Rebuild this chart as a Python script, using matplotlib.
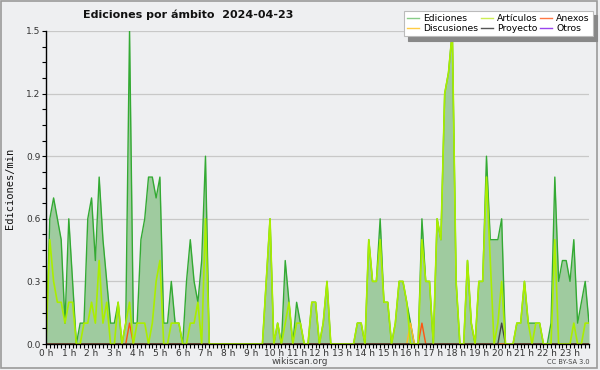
import numpy as np
import matplotlib
matplotlib.use("Agg")
import matplotlib.pyplot as plt
from matplotlib.ticker import MultipleLocator, FixedLocator
from matplotlib.lines import Line2D
from matplotlib.patches import Rectangle

# ---- data (10-minute bins, edits per minute) ----
ediciones = [
    0, 0.6, 0.7, 0.6, 0.5, 0.1, 0.6, 0.3, 0, 0.1, 0.1, 0.6,
    0.7, 0.4, 0.8, 0.5, 0.3, 0.1, 0.1, 0.2, 0, 0.1, 1.5, 0.1,
    0.1, 0.5, 0.6, 0.8, 0.8, 0.7, 0.8, 0.1, 0.1, 0.3, 0.1, 0.1,
    0, 0.3, 0.5, 0.3, 0.2, 0.4, 0.9, 0, 0, 0, 0, 0,
    0, 0, 0, 0, 0, 0, 0, 0, 0, 0, 0.3, 0.6,
    0, 0.1, 0, 0.4, 0.2, 0, 0.2, 0.1, 0, 0, 0.2, 0.2,
    0, 0.1, 0.3, 0, 0, 0, 0, 0, 0, 0, 0.1, 0.1,
    0, 0.5, 0.3, 0.3, 0.6, 0.2, 0.2, 0, 0.1, 0.3, 0.3, 0.2,
    0.1, 0, 0, 0.6, 0.3, 0.3, 0, 0.6, 0.5, 1.2, 1.3, 1.5,
    0.3, 0, 0, 0.4, 0.1, 0, 0.3, 0.3, 0.9, 0.5, 0.5, 0.5,
    0.6, 0, 0, 0, 0.1, 0.1, 0.3, 0.1, 0.1, 0.1, 0.1, 0,
    0, 0.1, 0.8, 0.3, 0.4, 0.4, 0.3, 0.5, 0.1, 0.2, 0.3, 0.1,
]
articulos = [
    0, 0.5, 0.3, 0.2, 0.2, 0.1, 0.2, 0.2, 0, 0, 0.1, 0.1,
    0.2, 0.1, 0.4, 0.1, 0.2, 0, 0, 0.2, 0, 0.1, 0.2, 0,
    0.1, 0.1, 0.1, 0, 0.1, 0.3, 0.4, 0, 0, 0.1, 0.1, 0.1,
    0, 0, 0.1, 0.1, 0.2, 0, 0.6, 0, 0, 0, 0, 0,
    0, 0, 0, 0, 0, 0, 0, 0, 0, 0, 0.3, 0.6,
    0, 0.1, 0, 0.1, 0.2, 0, 0.1, 0.1, 0, 0, 0.2, 0.2,
    0, 0.1, 0.3, 0, 0, 0, 0, 0, 0, 0, 0.1, 0.1,
    0, 0.5, 0.3, 0.3, 0.5, 0.2, 0.2, 0, 0.1, 0.3, 0.3, 0.2,
    0, 0, 0, 0.5, 0.3, 0.3, 0, 0.6, 0.5, 1.2, 1.3, 1.5,
    0.3, 0, 0, 0.4, 0.1, 0, 0.3, 0.3, 0.8, 0.4, 0, 0.1,
    0.3, 0, 0, 0, 0.1, 0.1, 0.3, 0.1, 0, 0.1, 0.1, 0,
    0, 0, 0.5, 0, 0, 0, 0, 0.1, 0, 0, 0.1, 0.1,
]
anexos = [
    0, 0, 0, 0, 0, 0, 0, 0, 0, 0, 0, 0,
    0, 0, 0, 0, 0, 0, 0, 0, 0, 0, 0.1, 0,
    0, 0, 0, 0, 0, 0, 0, 0, 0, 0, 0, 0,
    0, 0, 0, 0, 0, 0, 0, 0, 0, 0, 0, 0,
    0, 0, 0, 0, 0, 0, 0, 0, 0, 0, 0, 0,
    0, 0, 0, 0, 0, 0, 0, 0, 0, 0, 0, 0,
    0, 0, 0, 0, 0, 0, 0, 0, 0, 0, 0, 0,
    0, 0, 0, 0, 0, 0, 0, 0, 0, 0, 0, 0,
    0, 0, 0, 0.1, 0, 0, 0, 0, 0, 0, 0, 0,
    0, 0, 0, 0, 0, 0, 0, 0, 0, 0, 0, 0,
    0, 0, 0, 0, 0, 0, 0, 0, 0, 0, 0, 0,
    0, 0, 0, 0, 0, 0, 0, 0, 0, 0, 0, 0,
]
discusiones = [
    0, 0, 0, 0, 0, 0, 0, 0, 0, 0, 0, 0,
    0, 0, 0, 0, 0, 0, 0, 0, 0, 0, 0, 0,
    0, 0, 0, 0, 0, 0, 0, 0, 0, 0, 0, 0,
    0, 0, 0, 0, 0, 0, 0, 0, 0, 0, 0, 0,
    0, 0, 0, 0, 0, 0, 0, 0, 0, 0, 0, 0,
    0, 0, 0, 0, 0, 0, 0, 0, 0, 0, 0, 0,
    0, 0, 0, 0, 0, 0, 0, 0, 0, 0, 0, 0,
    0, 0, 0, 0, 0, 0, 0, 0, 0, 0, 0, 0,
    0.1, 0, 0, 0, 0, 0, 0, 0, 0, 0, 0, 0,
    0, 0, 0, 0, 0, 0, 0, 0, 0, 0, 0, 0,
    0, 0, 0, 0, 0, 0, 0, 0, 0, 0, 0, 0,
    0, 0, 0, 0, 0, 0, 0, 0, 0, 0, 0, 0,
]
proyecto = [
    0, 0, 0, 0, 0, 0, 0, 0, 0, 0, 0, 0,
    0, 0, 0, 0, 0, 0, 0, 0, 0, 0, 0, 0,
    0, 0, 0, 0, 0, 0, 0, 0, 0, 0, 0, 0,
    0, 0, 0, 0, 0, 0, 0, 0, 0, 0, 0, 0,
    0, 0, 0, 0, 0, 0, 0, 0, 0, 0, 0, 0,
    0, 0, 0, 0, 0, 0, 0, 0, 0, 0, 0, 0,
    0, 0, 0, 0, 0, 0, 0, 0, 0, 0, 0, 0,
    0, 0, 0, 0, 0, 0, 0, 0, 0, 0, 0, 0,
    0, 0, 0, 0, 0, 0, 0, 0, 0, 0, 0, 0,
    0, 0, 0, 0, 0, 0, 0, 0, 0, 0, 0, 0,
    0.1, 0, 0, 0, 0, 0, 0, 0, 0, 0, 0, 0,
    0, 0, 0, 0, 0, 0, 0, 0, 0, 0, 0, 0,
]
hour_labels = ["0 h", "1 h", "2 h", "3 h", "4 h", "5 h", "6 h", "7 h",
               "8 h", "9 h", "10 h", "11 h", "12 h", "13 h", "14 h", "15 h",
               "16 h", "17 h", "18 h", "19 h", "20 h", "21 h", "22 h", "23 h"]
y_ticks = [0.0, 0.3, 0.6, 0.9, 1.2, 1.5]
legend_labels = ["Ediciones", "Discusiones", "Artículos", "Proyecto", "Anexos", "Otros"]

# ---- style ----
BG = "#eeeff1"
W, H = 600, 370
fig = plt.figure(figsize=(6, 3.7), dpi=100, facecolor=BG)
ax = fig.add_axes([46 / W, 1 - 344 / H, (589 - 46) / W, (344 - 31) / H])
ax.set_facecolor(BG)

x = np.arange(len(ediciones)) * 10 / 60.0

ax.fill_between(x, ediciones, 0, color="#9fcb9f", lw=0, zorder=2)
ax.plot(x, ediciones, color="#33aa33", lw=1.0, zorder=3)
ax.plot(x, discusiones, color="#ffbb22", lw=1.0, zorder=3)
ax.plot(x, anexos, color="#ff5511", lw=1.0, zorder=3)
ax.plot(x, proyecto, color="#444444", lw=1.0, zorder=3)
ax.plot(x, articulos, color="#aaee00", lw=1.2, zorder=4)

ax.set_xlim(0, x[-1])
ax.set_ylim(0, 1.5)

for v in y_ticks[1:]:
    ax.axhline(v, color="#c8c8c8", lw=0.9, zorder=1)

for s in ["top", "right"]:
    ax.spines[s].set_visible(False)
for s in ["left", "bottom"]:
    ax.spines[s].set_color("black")
    ax.spines[s].set_linewidth(1.0)
    ax.spines[s].set_zorder(5)

ax.yaxis.set_major_locator(FixedLocator(y_ticks))
ax.set_yticklabels([f"{v:.1f}" for v in y_ticks])
ax.yaxis.set_minor_locator(MultipleLocator(0.075))
ax.xaxis.set_major_locator(FixedLocator(list(range(24))))
ax.set_xticklabels(hour_labels)
ax.xaxis.set_minor_locator(MultipleLocator(1 / 6))
ax.tick_params(which="both", direction="out", length=3, width=0.8, color="black")
ax.tick_params(axis="both", which="major", labelsize=6.5, labelcolor="#333333", pad=0.5)
ax.tick_params(axis="y", which="major", pad=1)

fig.text(10 / W, 1 - 188 / H, "Ediciones/min", rotation=90, ha="center", va="center",
         fontsize=7.5, family="DejaVu Sans Mono", color="#111111")
fig.text(188 / W, 1 - 15 / H, "Ediciones por ámbito  2024-04-23", ha="center", va="center",
         fontsize=8, fontweight="bold", color="#111111")
fig.text(300 / W, 1 - 361 / H, "wikiscan.org", ha="center", va="center",
         fontsize=6.5, color="#444444")
fig.text(590 / W, 1 - 362 / H, "CC BY-SA 3.0", ha="right", va="center",
         fontsize=4.8, color="#444444")

handles = [
    Line2D([], [], color="#88cc88", lw=1),
    Line2D([], [], color="#ffcc44", lw=1),
    Line2D([], [], color="#ccee55", lw=1),
    Line2D([], [], color="#555555", lw=1),
    Line2D([], [], color="#ff7744", lw=1),
    Line2D([], [], color="#9944ee", lw=1),
]
leg = fig.legend(handles, legend_labels, ncol=3, loc="upper right",
                 bbox_to_anchor=(593 / W, 1 - 11 / H), fontsize=6.7,
                 frameon=True, fancybox=False, handlelength=1.3, handletextpad=0.4,
                 columnspacing=0.3, labelspacing=0.1, borderpad=0.35,
                 borderaxespad=0,
                 shadow={"ox": 3, "oy": -3, "facecolor": "#888888", "edgecolor": "#888888", "alpha": 1})
leg.get_frame().set_facecolor("white")
leg.get_frame().set_edgecolor("#bbbbbb")
leg.get_frame().set_linewidth(0.8)
leg.get_frame().set_alpha(1)

fig.patches.append(Rectangle((0.5 / W, 2 / H), 596.5 / W, 367 / H, transform=fig.transFigure,
                             fill=False, edgecolor="#9a9a9a", lw=1.2))

fig.savefig("out.png", dpi=100, facecolor=BG)
